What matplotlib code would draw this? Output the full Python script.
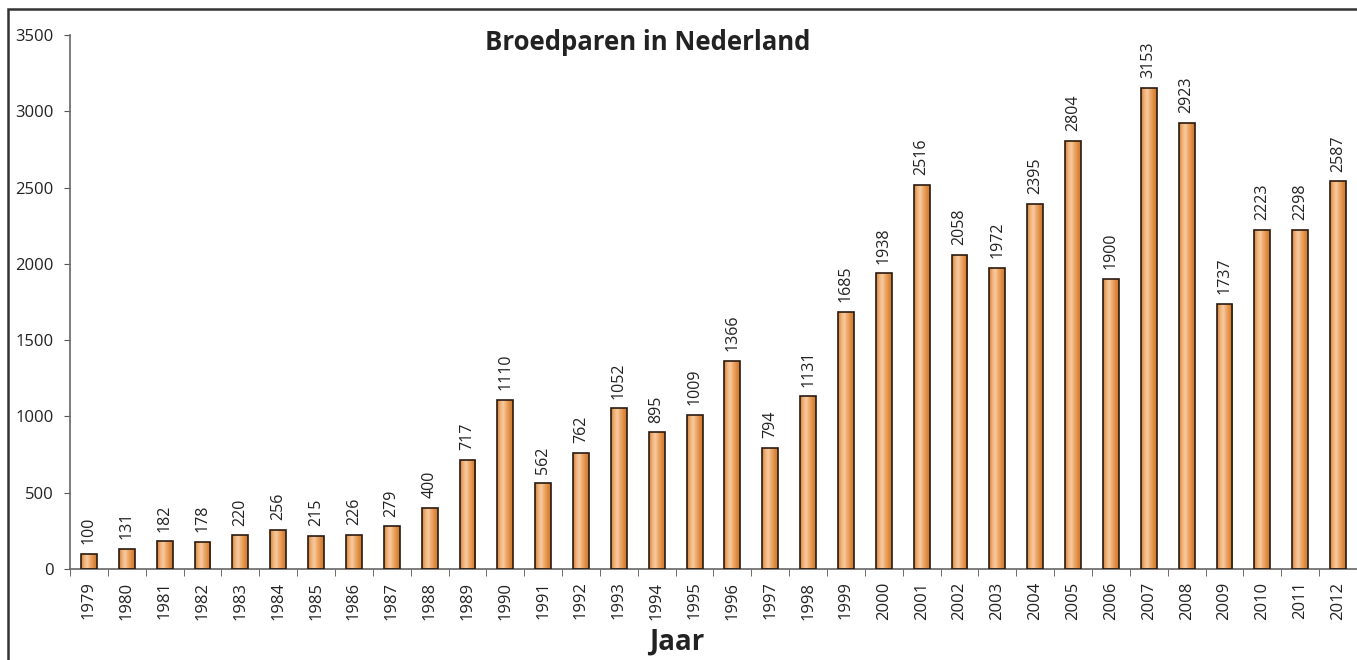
import matplotlib
matplotlib.use("Agg")
import matplotlib.pyplot as plt
import numpy as np
from matplotlib.colors import LinearSegmentedColormap
from matplotlib.patches import Rectangle

years = [str(y) for y in range(1979, 2013)]
# value printed above each bar
labels = [100, 131, 182, 178, 220, 256, 215, 226, 279, 400,
          717, 1110, 562, 762, 1052, 895, 1009, 1366, 794, 1131,
          1685, 1938, 2516, 2058, 1972, 2395, 2804, 1900, 3153, 2923,
          1737, 2223, 2298, 2587]
# bar heights as drawn (last two bars in the original sit lower than their labels)
heights = labels[:-2] + [2223, 2540]

plt.rcParams["font.family"] = ["Open Sans", "DejaVu Sans"]

fig = plt.figure(figsize=(13.57, 6.60), dpi=100)
ax = fig.add_axes([70 / 1357, 91 / 660, 1287 / 1357, 534 / 660])

x = np.arange(len(years))
bars = ax.bar(x, heights, width=0.42, color="none", edgecolor="#2a1a10",
              linewidth=1.2, zorder=3)

grad = LinearSegmentedColormap.from_list(
    "bar", ["#d27e36", "#f0b278", "#f7caa0", "#eea668", "#e08c42", "#c8762f"])
img = np.linspace(0, 1, 64).reshape(1, -1)
for b in bars:
    x0, w, h = b.get_x(), b.get_width(), b.get_height()
    im = ax.imshow(img, cmap=grad, aspect="auto", extent=(x0, x0 + w, 0, h),
                   zorder=2)
    im.set_clip_path(b)

for xi, h, v in zip(x, heights, labels):
    ax.annotate(str(v), (xi, h), xytext=(0, 7), textcoords="offset points",
                rotation=90, ha="center", va="bottom", fontsize=11.5,
                color="#222222")

ax.set_xlim(-0.5, len(years) - 0.5)
ax.set_ylim(0, 3500)
ax.set_yticks(range(0, 3501, 500))
ax.set_xticks(x)
ax.set_xticklabels(years, rotation=90, fontsize=12, color="#222222")
ax.set_xticks(np.arange(-0.5, len(years), 1), minor=True)
ax.tick_params(axis="x", which="major", length=0, pad=9)
ax.tick_params(axis="x", which="minor", length=5, color="#555555")
ax.tick_params(axis="y", length=4, color="#555555", labelsize=12,
               labelcolor="#222222", pad=8)
for s in ["top", "right"]:
    ax.spines[s].set_visible(False)
for s in ["left", "bottom"]:
    ax.spines[s].set_color("#666666")
    ax.spines[s].set_linewidth(1.2)

fig.text(648 / 1357, 1 - 43 / 660, "Broedparen in Nederland", ha="center",
         va="center", fontsize=18.5, fontweight="bold", color="#222222")
fig.text(677 / 1357, 3 / 660, "Jaar", ha="center", va="bottom",
         fontsize=20, fontweight="bold", color="#222222")

fig.patches.append(Rectangle((8 / 1357, -0.2), 1.2, 1.2 - 9 / 660,
                             transform=fig.transFigure, fill=False,
                             edgecolor="#333333", linewidth=1.8))

fig.savefig("out.png", dpi=100)
